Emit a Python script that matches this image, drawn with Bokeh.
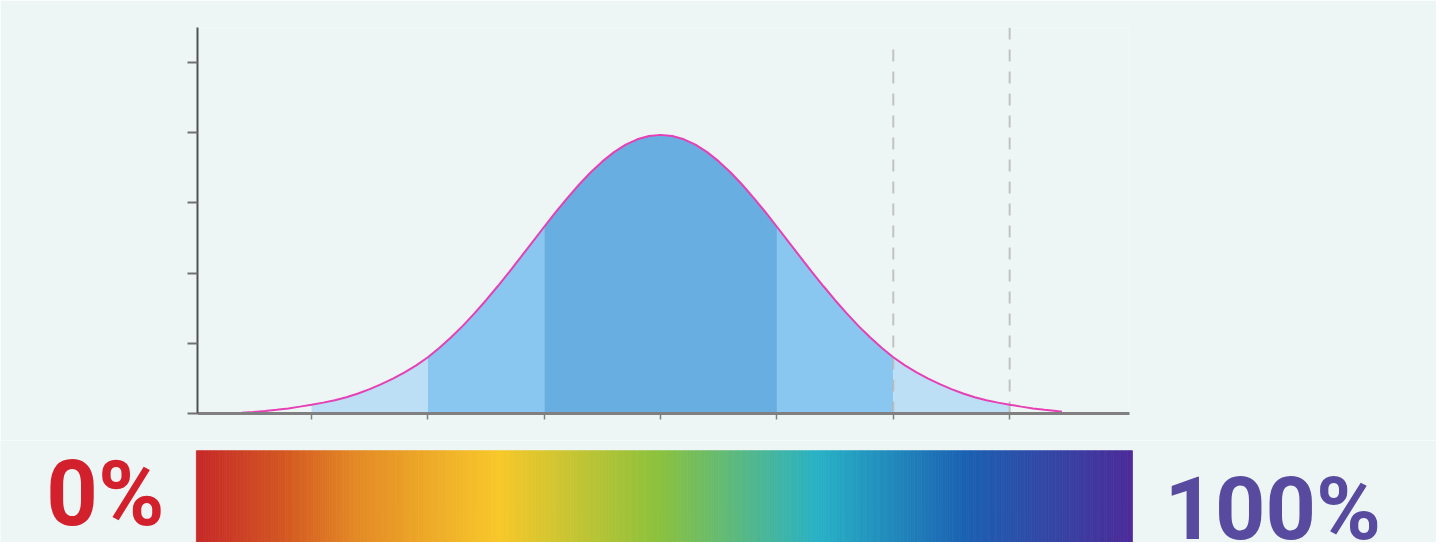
import numpy as np
from bokeh.plotting import figure
from bokeh.layouts import column
from bokeh.models import FixedTicker, Range1d
from bokeh.core.properties import value
from bokeh.embed import file_html
from bokeh.resources import INLINE

BG = "#eef6f5"

# ---- data (x in standard deviations, y = density) ----
curve_z = [-3.6, -3.5, -3.4, -3.3, -3.2, -3.1, -3.0, -2.9, -2.8, -2.7, -2.6, -2.5,
           -2.4, -2.3, -2.2, -2.1, -2.0, -1.9, -1.8, -1.7, -1.6, -1.5, -1.4, -1.3,
           -1.2, -1.1, -1.0, -0.9, -0.8, -0.7, -0.6, -0.5, -0.4, -0.3, -0.2, -0.1,
           0.0, 0.1, 0.2, 0.3, 0.4, 0.5, 0.6, 0.7, 0.8, 0.9, 1.0, 1.1, 1.2, 1.3,
           1.4, 1.5, 1.6, 1.7, 1.8, 1.9, 2.0, 2.1, 2.2, 2.3, 2.4, 2.5, 2.6, 2.7,
           2.8, 2.9, 3.0, 3.1, 3.2, 3.3, 3.4, 3.45]
curve_density = [0.0010, 0.0022, 0.0036, 0.0052, 0.0072, 0.0098, 0.0125, 0.0155,
                 0.0190, 0.0232, 0.0285, 0.0348, 0.0418, 0.0497, 0.0586, 0.0686,
                 0.0802, 0.0937, 0.1086, 0.1249, 0.1426, 0.1614, 0.1813, 0.2019,
                 0.2232, 0.2447, 0.2661, 0.2872, 0.3073, 0.3263, 0.3438, 0.3592,
                 0.3724, 0.3830, 0.3907, 0.3954,
                 0.3970,
                 0.3954, 0.3907, 0.3830, 0.3724, 0.3592, 0.3438, 0.3263, 0.3073,
                 0.2872, 0.2661, 0.2447, 0.2232, 0.2019, 0.1813, 0.1614, 0.1426,
                 0.1249, 0.1086, 0.0937, 0.0802, 0.0686, 0.0586, 0.0497, 0.0418,
                 0.0348, 0.0285, 0.0232, 0.0190, 0.0155, 0.0125, 0.0098, 0.0072,
                 0.0052, 0.0036, 0.0026]

band_edges = [-3, -2, -1, 1, 2, 3]
band_colors = ["#bddff6", "#89c6f0", "#69aee0", "#89c6f0", "#bddff6"]

x_ticks = [-3, -2, -1, 0, 1, 2, 3]
y_ticks = [0, 0.1, 0.2, 0.3, 0.4, 0.5]

ref_lines_z = [2, 3]
ref_lines_top = [0.526, 0.55]

gradient_stops = [0.0, 0.09, 0.173, 0.324, 0.495, 0.665, 0.822, 1.0]
gradient_colors = ["#c62828", "#d35522", "#e48b25", "#f8c82a", "#8bc13d",
                   "#28b1c6", "#1b61b2", "#4c2b99"]

labels = ["0%", "100%"]
label_colors = ["#d3202d", "#584a9f"]

# ---- top figure: the bell curve ----
p = figure(width=1436, height=440, x_range=Range1d(-3.98, 4.03), y_range=Range1d(0, 0.55),
           output_backend="svg", toolbar_location=None,
           min_border_left=197, min_border_right=307, min_border_top=27, min_border_bottom=27)
p.frame_align = False
p.background_fill_color = BG
p.border_fill_color = BG
p.outline_line_color = None
p.grid.visible = False

p.xaxis.ticker = FixedTicker(ticks=x_ticks)
p.xaxis.major_label_overrides = {t: "" for t in x_ticks}
p.xaxis.minor_tick_line_color = None
p.xaxis.major_tick_out = 6
p.xaxis.major_tick_in = 0
p.xaxis.axis_line_width = 3
p.xaxis.axis_line_color = "#808080"
p.xaxis.major_tick_line_color = "#808080"
p.xaxis.major_tick_line_width = 1.5

p.yaxis.ticker = FixedTicker(ticks=y_ticks)
p.yaxis.major_label_overrides = {t: "" for t in y_ticks}
p.yaxis.minor_tick_line_color = None
p.yaxis.major_tick_out = 10
p.yaxis.major_tick_in = 0
p.yaxis.axis_line_width = 2
p.yaxis.axis_line_color = "#505050"
p.yaxis.major_tick_line_color = "#707070"
p.yaxis.major_tick_line_width = 2

z = np.array(curve_z)
d = np.array(curve_density)
for i, col in enumerate(band_colors):
    m = (z >= band_edges[i] - 1e-9) & (z <= band_edges[i + 1] + 1e-9)
    p.varea(x=z[m], y1=np.zeros(m.sum()), y2=d[m], fill_color=col)

p.segment(x0=ref_lines_z, y0=[0, 0], x1=ref_lines_z, y1=ref_lines_top,
          line_color="#b5b5b5", line_width=2, line_dash="12 10", line_alpha=0.8)

p.line(z, d, line_color="#e640b6", line_width=2)

# ---- bottom figure: colour scale with labels (frame spans the whole width) ----
q = figure(width=1436, height=102, x_range=Range1d(-5.674, 6.671), y_range=Range1d(0, 1),
           output_backend="svg", toolbar_location=None, min_border=0,
           x_axis_location=None, y_axis_location=None)
q.frame_align = False
q.background_fill_color = BG
q.border_fill_color = BG
q.outline_line_color = None
q.grid.visible = False

bar_left, bar_right = -3.99, 4.057
n = 400
edges = np.linspace(bar_left, bar_right, n + 1)
fr = (np.arange(n) + 0.5) / n
rgb = np.array([[int(c[k:k + 2], 16) for k in (1, 3, 5)] for c in gradient_colors], dtype=float)
cols = []
for f in fr:
    r = np.interp(f, gradient_stops, rgb[:, 0])
    g = np.interp(f, gradient_stops, rgb[:, 1])
    b = np.interp(f, gradient_stops, rgb[:, 2])
    cols.append("#%02x%02x%02x" % (int(round(r)), int(round(g)), int(round(b))))
q.quad(left=edges[:-1], right=edges[1:], bottom=0, top=0.9,
       fill_color=cols, line_color=cols, line_width=0.8)

q.text(x=[-4.264], y=[0.47], text=[labels[0]], text_align="right",
       text_baseline="alphabetic", text_color=label_colors[0],
       text_font=value("Roboto"), text_font_style="bold", text_font_size="90px")
q.text(x=[4.332], y=[0.335], text=[labels[1]], text_align="left",
       text_baseline="alphabetic", text_color=label_colors[1],
       text_font=value("Roboto"), text_font_style="bold", text_font_size="88px")

layout = column(p, q, spacing=0)
open("out.html", "w").write(file_html(layout, INLINE))
